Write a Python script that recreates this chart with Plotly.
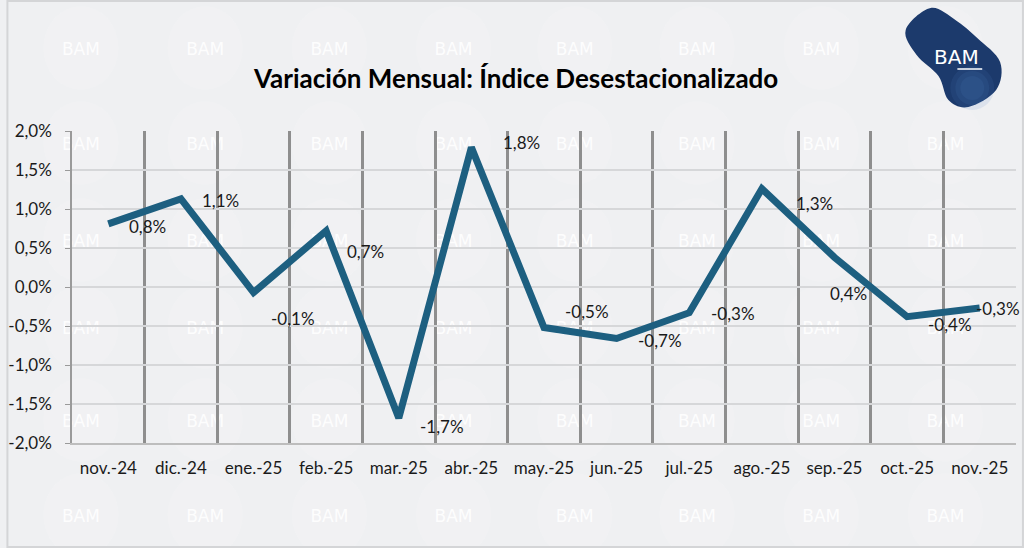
import plotly.graph_objects as go

# ---- data ----
categories = ["nov.-24", "dic.-24", "ene.-25", "feb.-25", "mar.-25", "abr.-25", "may.-25",
              "jun.-25", "jul.-25", "ago.-25", "sep.-25", "oct.-25", "nov.-25"]
values = [0.81, 1.13, -0.07, 0.72, -1.68, 1.79, -0.52, -0.66, -0.33, 1.26, 0.38, -0.38, -0.27]
y_ticks = [-2.0, -1.5, -1.0, -0.5, 0.0, 0.5, 1.0, 1.5, 2.0]
y_tick_labels = ["-2,0%", "-1,5%", "-1,0%", "-0,5%", "0,0%", "0,5%", "1,0%", "1,5%", "2,0%"]
title_text = "Variación Mensual: Índice Desestacionalizado"

# label offsets (pixels, style only)
label_dx = [39, 40, 39, 39, 43, 50, 43, 43, 44, 53, 14, 43, 18]
label_dy = [3, 2, 26, 21, 8, -5, -16, 2, 1, 15, 36, 8, 0]

W, H = 1024, 548
ML, MR, MT, MB = 66, 8, 131, 105
PW, PH = W - ML - MR, H - MT - MB

def px(x):
    return (x - ML) / PW

def py(y):
    return (H - MB - y) / PH

BG = "#eff0f2"
LINE = "#1d5f80"
FONT = "Lato"

fig = go.Figure()
fig.add_trace(go.Scatter(x=categories, y=values, mode="lines",
                         line=dict(color=LINE, width=7), hoverinfo="skip", showlegend=False))

shapes = []
annotations = []

# watermark (below traces)
wm_x = [75, 200, 325, 450, 572, 695, 820, 945]
wm_y = [48, 143, 240, 327, 420, 515]
for yy in wm_y:
    for xx in wm_x:
        shapes.append(dict(type="circle", xref="paper", yref="paper", layer="below",
                           x0=px(xx - 38), x1=px(xx + 38), y0=py(yy + 42), y1=py(yy - 42),
                           line=dict(width=0), fillcolor="rgba(255,255,255,0.12)"))
        shapes.append(dict(type="rect", xref="paper", yref="paper", layer="below",
                           x0=px(xx - 30), x1=px(xx + 30), y0=py(yy + 10), y1=py(yy - 10),
                           line=dict(width=0), fillcolor="rgba(0,0,0,0)",
                           label=dict(text="BAM", font=dict(family="DejaVu Sans", size=17,
                                                            color="rgba(255,255,255,0.9)"),
                                      textposition="middle center")))

# logo blob
pts = [(930, 8), (955, 20), (977, 38), (1000, 62), (996, 90), (968, 107), (948, 100),
       (938, 76), (916, 55), (905, 30)]
n = len(pts)
path = f"M {px(pts[0][0])},{py(pts[0][1])}"
for i in range(n):
    p0, p1, p2, p3 = pts[(i - 1) % n], pts[i], pts[(i + 1) % n], pts[(i + 2) % n]
    c1 = (p1[0] + (p2[0] - p0[0]) / 6, p1[1] + (p2[1] - p0[1]) / 6)
    c2 = (p2[0] - (p3[0] - p1[0]) / 6, p2[1] - (p3[1] - p1[1]) / 6)
    path += (f" C {px(c1[0])},{py(c1[1])} {px(c2[0])},{py(c2[1])} "
             f"{px(p2[0])},{py(p2[1])}")
path += " Z"
shapes.append(dict(type="path", xref="paper", yref="paper", path=path,
                   fillcolor="#1c3a6c", line=dict(width=0), layer="above"))
# lighter glow in the lower part of the logo
for r, a in [(22, 0.12), (17, 0.12), (12, 0.12)]:
    shapes.append(dict(type="circle", xref="paper", yref="paper", layer="above",
                       x0=px(972 - r), x1=px(972 + r), y0=py(88 + r), y1=py(88 - r),
                       fillcolor=f"rgba(80,130,200,{a})", line=dict(width=0)))
shapes.append(dict(type="line", xref="paper", yref="paper", x0=px(957), x1=px(982),
                   y0=py(69), y1=py(69), line=dict(color="white", width=1.5)))
annotations.append(dict(text="BAM", x=px(956), y=py(57), xref="paper", yref="paper",
                        xanchor="center", yanchor="middle",
                        showarrow=False, font=dict(family="DejaVu Sans", size=20, color="white")))

# border of the whole picture
shapes.append(dict(type="rect", xref="paper", yref="paper", x0=px(1), x1=px(1023),
                   y0=py(547), y1=py(1), line=dict(color="#d4d5d7", width=2)))

# data labels
for i, (c, v) in enumerate(zip(categories, values)):
    txt = f"{v:.1f}".replace(".", ",") + "%"
    annotations.append(dict(x=c, y=v, text=txt, showarrow=False, xshift=label_dx[i],
                            yshift=-label_dy[i], font=dict(family=FONT, size=17, color="#1a1a1a")))

# title
annotations.append(dict(text=f"<b>{title_text}</b>", x=px(512), y=py(78), xref="paper",
                        yref="paper", xanchor="center", yanchor="middle", showarrow=False,
                        font=dict(family=FONT, size=26, color="#000000")))

fig.update_layout(
    width=W, height=H,
    margin=dict(l=ML, r=MR, t=MT, b=MB),
    paper_bgcolor=BG, plot_bgcolor=BG,
    separators=",.",
    shapes=shapes, annotations=annotations,
    showlegend=False,
    xaxis=dict(type="category", range=[-0.5, len(categories) - 0.5], tickson="boundaries",
               showgrid=True, gridcolor="#8e8e8e", gridwidth=2.5, ticks="",
               showline=True, linecolor="#bdbdbd", linewidth=1.5,
               tickfont=dict(family=FONT, size=17, color="#1a1a1a"), ticklabelstandoff=9,
               zeroline=False),
    yaxis=dict(range=[-2, 2], tickvals=y_ticks, ticktext=y_tick_labels,
               showgrid=True, gridcolor="#d6d7d9", gridwidth=1.5,
               showline=True, linecolor="#9a9a9a", linewidth=1.5,
               ticks="outside", ticklen=5, tickcolor="#9a9a9a", ticklabelstandoff=10,
               tickfont=dict(family=FONT, size=17, color="#1a1a1a"), zeroline=False),
)

fig.write_html("out.html", config={"displayModeBar": False},
               post_script="document.body.style.margin='0';document.body.style.overflow='hidden';")
